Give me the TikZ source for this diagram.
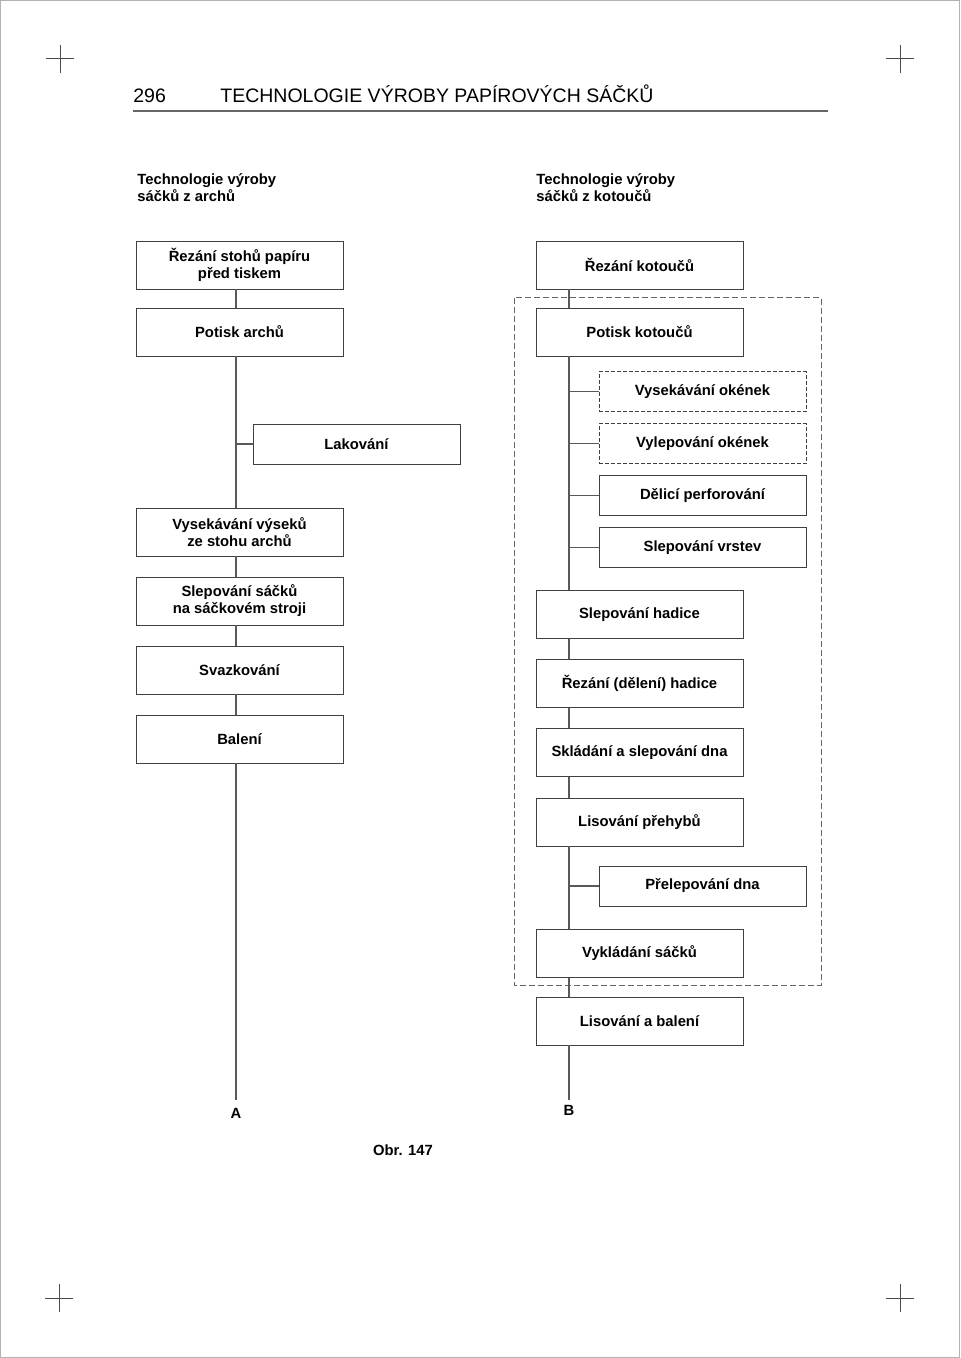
\documentclass[tikz,border=0pt]{standalone}
\usepackage{fontspec}
\setmainfont{Liberation Sans}
\tikzset{
  boxfont/.style={font=\fontsize{7.4}{8.5}\selectfont\bfseries},
  procbox/.style={draw=black!75, fill=white, boxfont, align=center, inner sep=0pt, minimum width=103.5pt, minimum height=24pt},
  subbox/.style={procbox, minimum height=20pt},
  wire/.style={draw=black!65, line width=0.6pt},
  cropmark/.style={draw=black!70, line width=0.5pt}
}
\begin{document}
\begin{tikzpicture}[x=0.5pt, y=-0.5pt]
\useasboundingbox (0,0) rectangle (960,1358);
\draw[black!30, line width=0.6pt] (0.5,0.5) rectangle (959.5,1357.5);

% crop marks
\foreach \cx/\cy in {60/59, 900/59, 59/1298, 900/1298} {
  \draw[cropmark] (\cx-14,\cy) -- (\cx+14,\cy);
  \draw[cropmark] (\cx,\cy-14) -- (\cx,\cy+14);
}

% page header
\node[anchor=base west, inner sep=0pt, font=\fontsize{9.75}{11}\selectfont] (pnum) at (133,103) {296};
\node[anchor=base west, inner sep=0pt, font=\fontsize{9.75}{11}\selectfont] (ptitle) at (220,103) {TECHNOLOGIE VÝROBY PAPÍROVÝCH SÁČKŮ};
\draw[black!60, line width=1pt] (133,111) -- (828,111);

% column headings
\node[anchor=north west, inner sep=0pt, align=left, boxfont] (headA) at (137,173) {Technologie výroby\\sáčků z archů};
\node[anchor=north west, inner sep=0pt, align=left, boxfont] (headB) at (536,173) {Technologie výroby\\sáčků z kotoučů};

% dashed frame round the machine steps
\draw[black!60, dashed, dash pattern=on 3pt off 1.5pt, line width=0.5pt] (514,298) rectangle (821,985);

% left column (from sheets)
\node[procbox] (L1) at (239.5,265) {Řezání stohů papíru\\před tiskem};
\node[procbox] (L2) at (239.5,332) {Potisk archů};
\node[subbox] (LAK) at (356.5,444) {Lakování};
\node[procbox] (L3) at (239.5,532) {Vysekávání výseků\\ze stohu archů};
\node[procbox] (L4) at (239.5,601) {Slepování sáčků\\na sáčkovém stroji};
\node[procbox] (L5) at (239.5,670) {Svazkování};
\node[procbox] (L6) at (239.5,739) {Balení};
\coordinate (endA) at (236,1100);
\node[boxfont, inner sep=0pt] (labA) at (236,1113) {A};

% right column (from reels)
\node[procbox] (R1) at (639.5,265) {Řezání kotoučů};
\node[procbox] (R2) at (639.5,332) {Potisk kotoučů};
\node[subbox, dashed, dash pattern=on 2pt off 1pt] (S1) at (702.5,391.5) {Vysekávání okének};
\node[subbox, dashed, dash pattern=on 2pt off 1pt] (S2) at (702.5,443.5) {Vylepování okének};
\node[subbox] (S3) at (702.5,495.5) {Dělicí perforování};
\node[subbox] (S4) at (702.5,547.5) {Slepování vrstev};
\node[procbox] (R3) at (639.5,614.5) {Slepování hadice};
\node[procbox] (R4) at (639.5,683.5) {Řezání (dělení) hadice};
\node[procbox] (R5) at (639.5,752.5) {Skládání a slepování dna};
\node[procbox] (R6) at (639.5,822) {Lisování přehybů};
\node[subbox] (S5) at (702.5,886) {Přelepování dna};
\node[procbox] (R7) at (639.5,953.5) {Vykládání sáčků};
\node[procbox] (R8) at (639.5,1021) {Lisování a balení};
\coordinate (endB) at (569,1100);
\node[boxfont, inner sep=0pt] (labB) at (569,1110) {B};

\node[boxfont, inner sep=0pt] (caption) at (403,1150) {Obr. 147};

% left spine
\draw[wire] (L1.south -| endA) -- (L2.north -| endA);
\draw[wire] (L2.south -| endA) -- (L3.north -| endA);
\draw[wire] (L3.south -| endA) -- (L4.north -| endA);
\draw[wire] (L4.south -| endA) -- (L5.north -| endA);
\draw[wire] (L5.south -| endA) -- (L6.north -| endA);
\draw[wire] (L6.south -| endA) -- (endA);
\draw[wire] (LAK.west -| endA) -- (LAK.west);

% right spine
\draw[wire] (R1.south -| endB) -- (R2.north -| endB);
\draw[wire] (R2.south -| endB) -- (R3.north -| endB);
\draw[wire] (R3.south -| endB) -- (R4.north -| endB);
\draw[wire] (R4.south -| endB) -- (R5.north -| endB);
\draw[wire] (R5.south -| endB) -- (R6.north -| endB);
\draw[wire] (R6.south -| endB) -- (R7.north -| endB);
\draw[wire] (R7.south -| endB) -- (R8.north -| endB);
\draw[wire] (R8.south -| endB) -- (endB);
\foreach \s in {S1,S2,S3,S4,S5}
  \draw[wire] (\s.west -| endB) -- (\s.west);
\end{tikzpicture}
\end{document}
